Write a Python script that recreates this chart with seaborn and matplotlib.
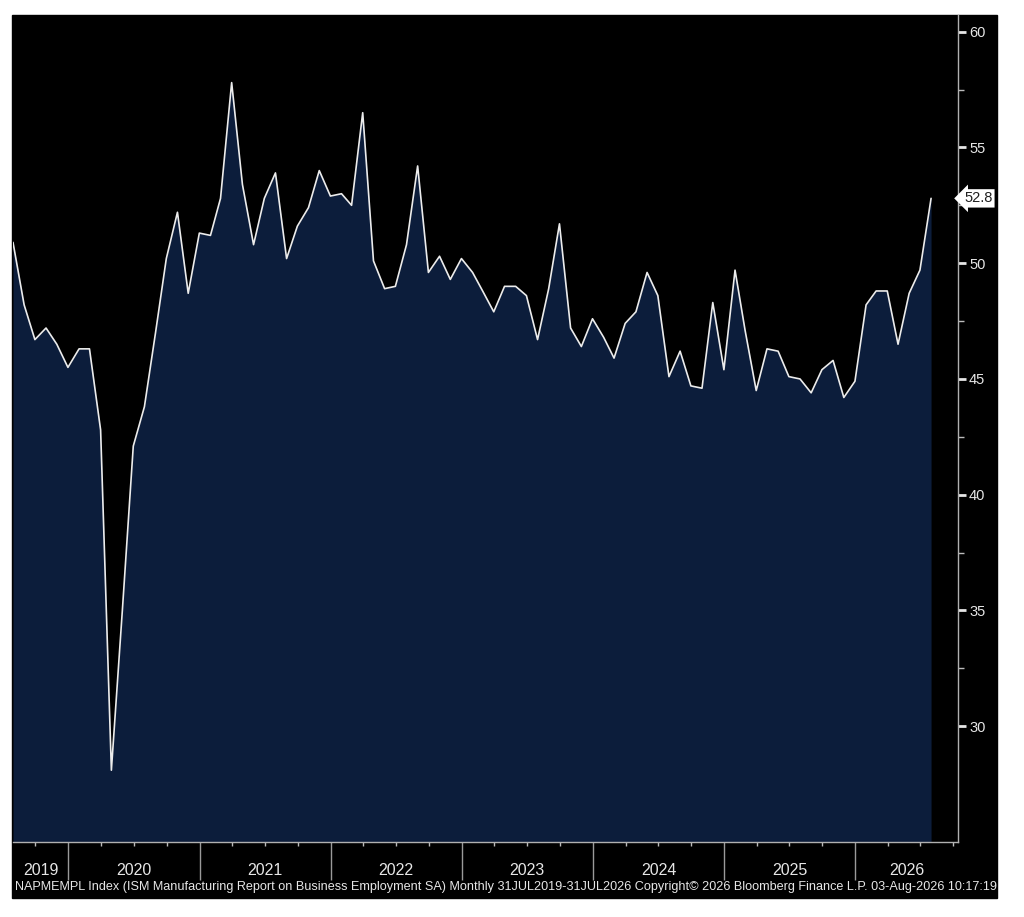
import numpy as np
import pandas as pd
import matplotlib
matplotlib.use("Agg")
import matplotlib.pyplot as plt
import matplotlib.dates as mdates
import matplotlib.transforms as mtransforms
from matplotlib.patches import Rectangle
import seaborn as sns

# ISM employment, monthly (month-end dates)
dates = pd.date_range("2019-07-31", "2026-07-31", freq="ME")
values = [
    50.9, 48.2, 46.7, 47.2, 46.5, 45.5, 46.3, 46.3, 42.8, 28.1,
    35.1, 42.1, 43.8, 47.0, 50.2, 52.2, 48.7, 51.3, 51.2, 52.8,
    57.8, 53.4, 50.8, 52.8, 53.9, 50.2, 51.6, 52.4, 54.0, 52.9,
    53.0, 52.5, 56.5, 50.1, 48.9, 49.0, 50.8, 54.2, 49.6, 50.3,
    49.3, 50.2, 49.6, 48.8, 47.9, 49.0, 49.0, 48.6, 46.7, 48.9,
    51.7, 47.2, 46.4, 47.6, 46.8, 45.9, 47.4, 47.9, 49.6, 48.6,
    45.1, 46.2, 44.7, 44.6, 48.3, 45.4, 49.7, 47.1, 44.5, 46.3,
    46.2, 45.1, 45.0, 44.4, 45.4, 45.8, 44.2, 44.9, 48.2, 48.8,
    48.8, 46.5, 48.7, 49.7, 52.8,
]
years = [2019, 2020, 2021, 2022, 2023, 2024, 2025, 2026]
y_ticks = [30, 35, 40, 45, 50, 55, 60]
last_label = "52.8"
footer = ("NAPMEMPL Index (ISM Manufacturing Report on Business Employment SA) Monthly "
          "31JUL2019-31JUL2026 Copyright\u00a9 2026 Bloomberg Finance L.P. 03-Aug-2026 10:17:19")

df = pd.DataFrame({"date": dates, "value": values})

sns.set_theme(style="ticks")
plt.rcParams["font.family"] = ["Liberation Sans", "DejaVu Sans"]

W, H = 1024, 917
fig = plt.figure(figsize=(W / 100, H / 100), dpi=100, facecolor="white")
# black chart panel (including the footer strip)
fig.patches.append(Rectangle((12 / W, 1 - 898 / H), (997 - 12) / W, (898 - 15) / H,
                             transform=fig.transFigure, color="black", zorder=-1))
ax = fig.add_axes([13 / W, 1 - 842 / H, (958 - 13) / W, (842 - 15) / H])
ax.set_zorder(2)
ax.set_facecolor("black")

ymin, ymax = 25.0, 60.72
xmin, xmax = pd.Timestamp("2019-07-31"), pd.Timestamp("2026-10-14")

ax.fill_between(df["date"], df["value"], ymin, color="#0c1d3b", lw=0)
sns.lineplot(data=df, x="date", y="value", ax=ax, color="#ececec", lw=1.2)

ax.set_xlim(xmin, xmax)
ax.set_ylim(ymin, ymax)
ax.set_xlabel("")
ax.set_ylabel("")

# y axis on the right
ax.yaxis.tick_right()
ax.set_yticks(y_ticks)
ax.set_yticks([v + 2.5 for v in y_ticks[:-1]], minor=True)
ax.tick_params(axis="y", which="major", direction="out", length=6, width=2,
               colors="#e6e6e6", labelsize=10.5, pad=2)
ax.tick_params(axis="y", which="minor", direction="out", length=4, width=1,
               colors="#bbbbbb")

# x axis: year separators as long major ticks, quarterly minor ticks
ax.xaxis.set_major_locator(mdates.YearLocator())
ax.xaxis.set_major_formatter(plt.NullFormatter())
ax.xaxis.set_minor_locator(mdates.MonthLocator(bymonth=[4, 7, 10]))
ax.tick_params(axis="x", which="major", direction="out", length=27, width=1,
               colors="#9a9a9a")
ax.tick_params(axis="x", which="minor", direction="out", length=3, width=1,
               colors="#bbbbbb")

for side in ["top", "left"]:
    ax.spines[side].set_visible(False)
for side in ["right", "bottom"]:
    ax.spines[side].set_color("#b0b0b0")
    ax.spines[side].set_linewidth(1)

# year labels, centered in the visible part of each year
trans = mtransforms.blended_transform_factory(ax.transData, ax.transAxes)
for yr in years:
    a = max(pd.Timestamp(f"{yr}-01-01"), xmin)
    b = min(pd.Timestamp(f"{yr + 1}-01-01"), xmax)
    mid = a + (b - a) / 2
    ax.text(mid, -0.034, str(yr), transform=trans, ha="center", va="center",
            fontsize=11.5, color="#e6e6e6")

# last value tag
ytrans = mtransforms.blended_transform_factory(ax.transAxes, ax.transData)
ax.annotate(last_label, xy=(1.0, values[-1]), xycoords=ytrans,
            xytext=(6, 0), textcoords="offset pixels", ha="left", va="center",
            fontsize=10.5, color="#202020",
            bbox=dict(boxstyle="larrow,pad=0.15", fc="white", ec="none"))

fig.text(15 / W, 1 - 887 / H, footer, ha="left", va="center",
         fontsize=9.1, color="#e6e6e6", zorder=3)

fig.savefig("out.png", dpi=100, facecolor="white")
